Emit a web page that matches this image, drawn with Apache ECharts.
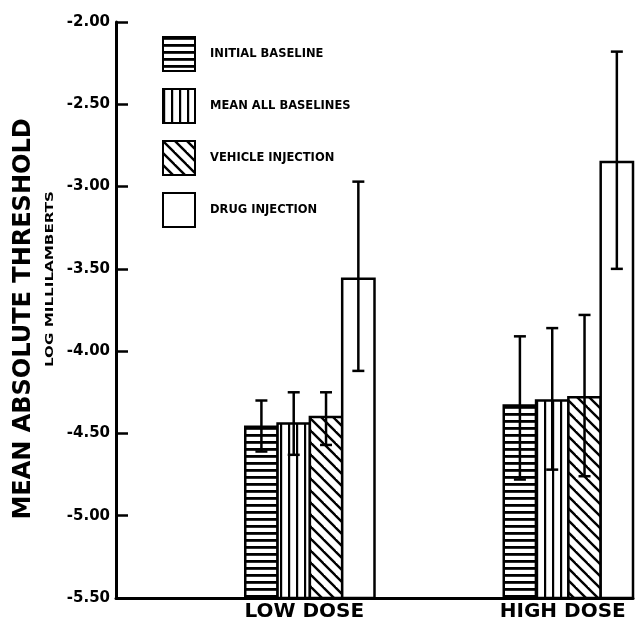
<!DOCTYPE html>
<html><head><meta charset="utf-8">
<script src="https://cdn.jsdelivr.net/npm/echarts@6/dist/echarts.min.js"></script>
<style>html,body{margin:0;padding:0;background:#fff}#c{width:636px;height:622px}</style>
</head><body><div id="c"></div>
<script>
// ---- data ----
const categories = ['LOW DOSE', 'HIGH DOSE'];
const seriesNames = ['INITIAL BASELINE', 'MEAN ALL BASELINES', 'VEHICLE INJECTION', 'DRUG INJECTION'];
const initialBaseline = [-4.46, -4.33];
const meanAllBaselines = [-4.44, -4.30];
const vehicleInjection = [-4.40, -4.28];
const drugInjection = [-3.56, -2.85];
const initialBaselineErr = [[-4.61, -4.30], [-4.78, -3.91]];
const meanAllBaselinesErr = [[-4.63, -4.25], [-4.72, -3.86]];
const vehicleInjectionErr = [[-4.57, -4.25], [-4.76, -3.78]];
const drugInjectionErr = [[-4.12, -2.97], [-3.50, -2.18]];
const yTicks = ['-2.00', '-2.50', '-3.00', '-3.50', '-4.00', '-4.50', '-5.00', '-5.50'];
const yTitle = 'MEAN ABSOLUTE THRESHOLD';
const ySubTitle = 'LOG MILLILAMBERTS';

const values = [initialBaseline, meanAllBaselines, vehicleInjection, drugInjection];
const errs = [initialBaselineErr, meanAllBaselinesErr, vehicleInjectionErr, drugInjectionErr];
const tickNums = yTicks.map(Number);
const yMin = Math.min(...tickNums), yMax = Math.max(...tickNums);

// ---- patterns ----
function tile(w, h, draw) {
  const c = document.createElement('canvas'); c.width = w; c.height = h;
  const g = c.getContext('2d'); g.fillStyle = '#fff'; g.fillRect(0, 0, w, h);
  g.fillStyle = '#000'; g.strokeStyle = '#000'; draw(g);
  return { image: c, repeat: 'repeat' };
}
const patHoriz = tile(8, 7, g => g.fillRect(0, 0, 8, 2.8));
const patVert = tile(8, 8, g => g.fillRect(0, 0, 2.2, 8));
const patDiag = tile(12, 12, g => {
  g.lineWidth = 2.4;
  for (let k = -1; k <= 1; k++) { g.beginPath(); g.moveTo(k * 12 - 2, -2); g.lineTo(k * 12 + 14, 14); g.stroke(); }
});
const patWhite = '#ffffff';
const patterns = [patHoriz, patVert, patDiag, patWhite];

function makeRender(si) {
  return function (params, api) {
    const ci = api.value(0), v = api.value(1), lo = api.value(2), hi = api.value(3);
    const bw = api.size([1, 0])[0];
    const base = api.coord([ci, yMin]);
    const top = api.coord([ci, v]);
    const w = bw / 8;
    const x0 = base[0] + w * si;
    const cx = x0 + w / 2;
    const yLo = api.coord([ci, lo])[1], yHi = api.coord([ci, hi])[1];
    const st = api.style();
    const ln = { stroke: '#000', lineWidth: 2.5 };
    return { type: 'group', children: [
      { type: 'rect', shape: { x: x0, y: top[1], width: w, height: base[1] - top[1] }, style: { fill: st.fill, stroke: '#000', lineWidth: 2.5 } },
      { type: 'line', shape: { x1: cx, y1: yLo, x2: cx, y2: yHi }, style: ln },
      { type: 'line', shape: { x1: cx - 6, y1: yLo, x2: cx + 6, y2: yLo }, style: ln },
      { type: 'line', shape: { x1: cx - 6, y1: yHi, x2: cx + 6, y2: yHi }, style: ln }
    ]};
  };
}

const series = seriesNames.map((name, si) => ({
  name, type: 'custom', renderItem: makeRender(si),
  itemStyle: { color: patterns[si], borderColor: '#000', borderWidth: 2.5 },
  encode: { x: 0, y: [1, 2, 3] },
  data: categories.map((c, ci) => [ci, values[si][ci], errs[si][ci][0], errs[si][ci][1]])
}));

function measure(text, font) {
  const g = document.createElement('canvas').getContext('2d'); g.font = font; return g.measureText(text).width;
}
const titleFont = 'bold 24px "DejaVu Sans"';
const subFont = 'bold 11px "DejaVu Sans"';
const subScale = 176 / measure(ySubTitle, subFont);

const chart = echarts.init(document.getElementById('c'), null, { renderer: 'canvas' });
chart.setOption({
  animation: false,
  backgroundColor: '#fff',
  grid: { left: 116, right: 3, top: 22, bottom: 24 },
  legend: {
    data: seriesNames, orient: 'vertical', left: 162, top: 36, padding: 0,
    itemWidth: 32, itemHeight: 34, itemGap: 16, icon: 'rect', selectedMode: false,
    textStyle: { fontFamily: 'DejaVu Sans', fontWeight: 'bold', fontSize: 11.5, color: '#000', padding: [0, 0, 0, 10] }
  },
  xAxis: {
    type: 'category', data: categories,
    axisLine: { lineStyle: { color: '#000', width: 3 } },
    axisTick: { show: false },
    axisLabel: { color: '#000', fontFamily: 'DejaVu Sans', fontWeight: 'bold', fontSize: 20, margin: 4, padding: [0, 0, 0, 118] }
  },
  yAxis: {
    type: 'value', min: yMin, max: yMax, interval: 0.5,
    splitLine: { show: false },
    axisLine: { show: true, lineStyle: { color: '#000', width: 3 } },
    axisTick: { show: true, inside: true, length: 12, lineStyle: { color: '#000', width: 2.5 } },
    axisLabel: { color: '#000', fontFamily: 'DejaVu Sans', fontWeight: 'bold', fontSize: 15, margin: 6,
      formatter: v => yTicks[tickNums.findIndex(t => Math.abs(t - v) < 1e-6)] || v.toFixed(2) }
  },
  graphic: [
    { type: 'text', x: 24, y: 319, rotation: Math.PI / 2,
      style: { text: yTitle, font: titleFont, fill: '#000', textAlign: 'center', textVerticalAlign: 'middle' } },
    { type: 'text', x: 50, y: 279, rotation: Math.PI / 2, scaleX: subScale,
      style: { text: ySubTitle, font: subFont, fill: '#000', textAlign: 'center', textVerticalAlign: 'middle' } }
  ],
  series
});
</script>
</body></html>
